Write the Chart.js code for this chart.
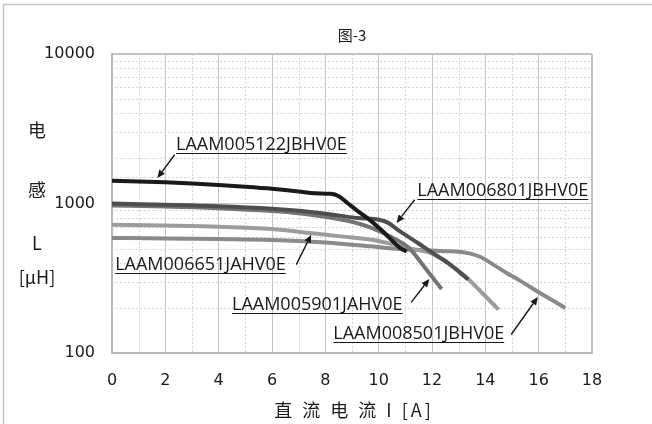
<!DOCTYPE html>
<html><head><meta charset="utf-8">
<script src="https://cdn.jsdelivr.net/npm/chart.js@4.4.1/dist/chart.umd.min.js"></script>
<style>html,body{margin:0;padding:0;background:#fff;}#wrap{width:652px;height:424px;position:relative;}</style>
</head><body><div id="wrap"><canvas id="c" width="652" height="424"></canvas></div>
<script>
// ---- text ----
const chartTitle = '图-3';
const xAxisTitle = '直 流 电 流 I [A]';
const yAxisTitleLines = ['电', '感', 'L', '[μH]'];
const xTickLabels = ['0','2','4','6','8','10','12','14','16','18'];
const yTickLabels = ['100','1000','10000'];

// ---- series (current I [A], inductance L [µH]) ----
const seriesNames = ['LAAM005122JBHV0E','LAAM006801JBHV0E','LAAM005901JAHV0E','LAAM006651JAHV0E','LAAM008501JBHV0E'];

const cur005122 = [0,1,2,3,4,5,6,7,7.6,8.2,8.5,8.85,9.25,9.65,10.2,10.8,11.05];
const ind005122 = [1420,1405,1385,1360,1330,1295,1255,1205,1170,1160,1120,1000,880,780,640,505,478];

const cur006801 = [0,2,4,6,7,8,9.2,10.06,10.36,10.79,11.5,12.03,12.6,13.36];
const ind006801 = [1000,982,960,923,895,855,800,775,742,653,540,466,400,310];

const cur005901 = [0,2,4,6,7,8,9,9.73,10.4,11.15,11.67,12.36];
const ind005901 = [970,955,930,890,860,815,755,686,605,502,385,268];

const cur006651 = [0,2,4,6,7.5,8.5,9.8,10.5,11.3,12,12.6,13.3,13.9,14.5];
const ind006651 = [721,712,700,675,632,605,570,535,495,462,400,320,250,195];

const cur008501 = [0,2,4,6,8,9,9.73,10.5,11.3,12,12.5,13,13.4,13.8,14.3,14.8,15.3,16,16.5,17];
const ind008501 = [588,584,578,570,548,530,517,500,490,484,480,476,464,440,390,343,305,255,226,200];

// ---- callout labels (text left/baseline and arrow, in axis units) ----
const calloutText   = ['LAAM005122JBHV0E','LAAM006801JBHV0E','LAAM006651JAHV0E','LAAM005901JAHV0E','LAAM008501JBHV0E'];
const calloutTextI  = [2.4, 11.45, 0.12, 4.5, 8.3];
const calloutTextL  = [2291, 1116, 361, 195, 124];
const calloutFromI  = [2.35, 11.35, 6.91, 11.22, 14.97];
const calloutFromL  = [2120, 1060, 390, 218, 133];
const calloutToI    = [1.7, 10.67, 7.47, 11.9, 15.97];
const calloutToL    = [1481, 741, 618, 313, 237];

const colors = ['#1a1a1a','#4e4e4e','#747474','#9c9c9c','#8a8a8a'];

function pts(xs, ys){ return xs.map((x,i)=>({x:x, y:ys[i]})); }
const seriesData = [pts(cur005122,ind005122), pts(cur006801,ind006801), pts(cur005901,ind005901), pts(cur006651,ind006651), pts(cur008501,ind008501)];

const isMajorY = v => Math.abs(Math.log10(v) - Math.round(Math.log10(v))) < 1e-9;
const isMajorX = v => Math.abs(v % 2) < 1e-9;

const decor = {
  id: 'decor',
  beforeDatasetsDraw(chart){
    const {ctx, chartArea:a, scales:{x, y}} = chart;
    ctx.save();
    ctx.strokeStyle = '#d4d4d4';
    ctx.lineWidth = 1;
    ctx.setLineDash([2,2]);
    x.ticks.forEach(t => {
      if (!isMajorX(t.value)) {
        const px = Math.round(x.getPixelForValue(t.value)) + 0.5;
        ctx.beginPath(); ctx.moveTo(px, a.top); ctx.lineTo(px, a.bottom); ctx.stroke();
      }
    });
    y.ticks.forEach(t => {
      if (!isMajorY(t.value)) {
        const py = Math.round(y.getPixelForValue(t.value)) + 0.5;
        ctx.beginPath(); ctx.moveTo(a.left, py); ctx.lineTo(a.right, py); ctx.stroke();
      }
    });
    ctx.restore();
  },
  afterDatasetsDraw(chart){
    const {ctx, scales:{x, y}} = chart;
    ctx.save();
    ctx.font = '18px "Open Sans"';
    ctx.fillStyle = '#1a1a1a';
    ctx.strokeStyle = '#1a1a1a';
    ctx.textAlign = 'left';
    ctx.textBaseline = 'alphabetic';
    calloutText.forEach((txt, i) => {
      const tx = x.getPixelForValue(calloutTextI[i]);
      const ty = y.getPixelForValue(calloutTextL[i]);
      ctx.fillText(txt, tx, ty);
      const w = ctx.measureText(txt).width;
      ctx.lineWidth = 1;
      ctx.beginPath(); ctx.moveTo(tx, Math.round(ty)+3.5); ctx.lineTo(tx+w, Math.round(ty)+3.5); ctx.stroke();
      const fx = x.getPixelForValue(calloutFromI[i]), fy = y.getPixelForValue(calloutFromL[i]);
      const ex = x.getPixelForValue(calloutToI[i]), ey = y.getPixelForValue(calloutToL[i]);
      const ang = Math.atan2(ey-fy, ex-fx);
      const hl = 8, hw = 3.5;
      const bx = ex - hl*Math.cos(ang), by = ey - hl*Math.sin(ang);
      ctx.lineWidth = 1.4;
      ctx.beginPath(); ctx.moveTo(fx, fy); ctx.lineTo(bx, by); ctx.stroke();
      ctx.beginPath();
      ctx.moveTo(ex, ey);
      ctx.lineTo(bx + hw*Math.sin(ang), by - hw*Math.cos(ang));
      ctx.lineTo(bx - hw*Math.sin(ang), by + hw*Math.cos(ang));
      ctx.closePath(); ctx.fill();
    });
    ctx.restore();
  },
  afterDraw(chart){
    const {ctx, chartArea:a} = chart;
    ctx.save();
    ctx.strokeStyle = '#c4c4c4'; ctx.lineWidth = 1.5;
    ctx.beginPath(); ctx.moveTo(3.5, 430); ctx.lineTo(3.5, 4.5); ctx.lineTo(660, 4.5); ctx.stroke();
    ctx.fillStyle = '#1a1a1a';
    ctx.textAlign = 'center'; ctx.textBaseline = 'middle';
    ctx.font = '15px "Noto Sans CJK SC"';
    ctx.fillText(chartTitle, (a.left + a.right)/2, 35);
    ctx.font = '18px "Noto Sans CJK SC"';
    const yPos = [130, 190, 243, 277];
    yAxisTitleLines.forEach((t, i) => ctx.fillText(t, 37, yPos[i]));
    ctx.font = '18px "Noto Sans CJK SC"';
    ctx.letterSpacing = '3px';
    ctx.fillText(xAxisTitle, (a.left + a.right)/2 + 2, 410);
    ctx.restore();
  }
};

Chart.defaults.font.family = '"DejaVu Sans"';
Chart.defaults.color = '#1a1a1a';

new Chart(document.getElementById('c'), {
  type: 'line',
  data: {
    datasets: seriesNames.map((n, i) => ({
      label: n,
      data: seriesData[i],
      borderColor: colors[i],
      backgroundColor: colors[i],
      borderWidth: 4,
      pointRadius: 0,
      fill: false,
      cubicInterpolationMode: 'monotone',
      borderJoinStyle: 'round'
    }))
  },
  options: {
    responsive: false,
    animation: false,
    devicePixelRatio: 1,
    layout: { padding: { top: 54, right: 60, bottom: 0, left: 0 } },
    plugins: { legend: { display: false }, tooltip: { enabled: false }, title: { display: false } },
    scales: {
      x: {
        type: 'linear', min: 0, max: 18,
        ticks: {
          stepSize: 1, autoSkip: false, maxRotation: 0, padding: 18,
          font: { size: 16 },
          callback: v => xTickLabels.includes(String(v)) ? String(v) : ''
        },
        grid: {
          drawTicks: false,
          color: c => (c.tick && isMajorX(c.tick.value)) ? '#c4c4c4' : 'rgba(0,0,0,0)',
          lineWidth: c => (c.tick && (c.tick.value === 18)) ? 2 : 1
        },
        border: { color: '#b8b8b8', width: 2 },
        afterFit: s => { s.height = 71; }
      },
      y: {
        type: 'logarithmic', min: 100, max: 10000,
        ticks: {
          autoSkip: false, padding: 17,
          font: { size: 16 },
          callback: v => yTickLabels.includes(String(v)) ? String(v) : ''
        },
        grid: {
          drawTicks: false,
          color: c => (c.tick && isMajorY(c.tick.value)) ? '#c4c4c4' : 'rgba(0,0,0,0)',
          lineWidth: c => (c.tick && (c.tick.value === 10000)) ? 2 : 1
        },
        border: { color: '#b8b8b8', width: 2 },
        afterFit: s => { s.width = 112; }
      }
    }
  },
  plugins: [decor]
});
</script>
</body></html>
